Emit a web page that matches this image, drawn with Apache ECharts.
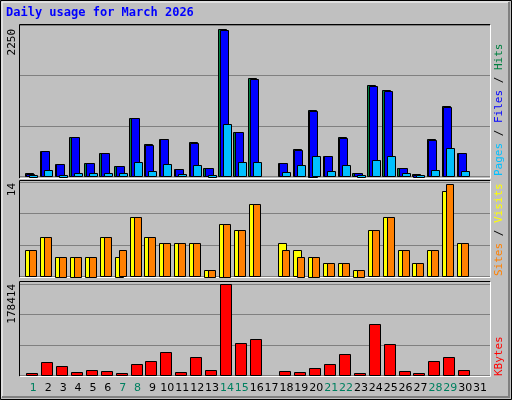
<!DOCTYPE html>
<html><head><meta charset="utf-8">
<script src="https://cdn.jsdelivr.net/npm/echarts@6/dist/echarts.min.js"></script>
<style>html,body{margin:0;padding:0;background:#c0c0c0}#c{width:512px;height:400px}</style>
</head><body><div id="c"></div>
<script>
const days = ['1','2','3','4','5','6','7','8','9','10','11','12','13','14','15','16','17','18','19','20','21','22','23','24','25','26','27','28','29','30','31'];
const weekend = ['1','7','8','14','15','21','22','28','29'];
const hits  = [51,387,188,600,204,356,158,891,494,570,112,524,127,2250,677,1502,0,204,417,1018,310,600,51,1395,1318,127,36,570,1074,356,0];
const files = [36,387,188,600,204,356,158,891,478,570,112,509,127,2235,677,1486,0,204,402,1003,310,585,51,1379,1303,127,30,555,1059,356,0];
const pages = [15,97,20,51,51,51,51,219,81,188,36,173,15,799,219,219,0,66,173,310,81,173,20,249,310,51,10,97,433,81,0];
const sites = [4,6,3,3,3,6,3,9,6,5,5,5,1,8,7,11,0,5,4,3,2,2,1,7,9,4,2,4,13,5,0];
const visits= [4,6,3,3,3,6,4,9,6,5,5,5,1,8,7,11,0,4,3,3,2,2,1,7,9,4,2,4,14,5,0];
const kbytes= [2500,25500,18300,5900,9800,7800,2600,21600,27400,45100,5900,35300,9800,178414,62700,70600,0,7800,5900,13700,21600,41200,3900,100000,60800,7800,2600,27400,35300,9800,0];
const yMaxLabels = ['2250','14','178414'];

const chart = echarts.init(document.getElementById('c'));
const XMIN = 0.107, XMAX = 31.67;
function barSeries(data, grid, color, x0, x1, z){
  return {type:'custom', xAxisIndex:grid, yAxisIndex:grid, z:z,
    data: data.map((v,i)=>[i+1,v]),
    renderItem:(p,api)=>{
      const v=api.value(1); if(!v) return;
      const c=api.coord([api.value(0),v]); const b=api.coord([api.value(0),0]);
      const unit=api.size([1,0])[0]/14.89;
      const h=Math.max(b[1]-c[1],2);
      return {type:'rect', shape:{x:Math.round(c[0]+x0*unit)+0.5,y:Math.round(b[1]-h)+0.5,width:Math.round((x1-x0)*unit),height:Math.round(h)},
        style:{fill:color,stroke:'#000',lineWidth:1}};
    }};
}
const grids=[{left:20,width:470,top:25,height:151.7},{left:20,width:470,top:182,height:94.3},{left:20,width:470,top:283.8,height:91.5},{left:25.9,width:461.6,top:376,height:1}];
const ymax=[2316,14.35,179400];
const xAxis=[0,1,2].map(i=>({gridIndex:i,type:'value',min:XMIN,max:XMAX,show:false}));
xAxis.push({gridIndex:3,type:'category',data:days,axisLine:{show:false},axisTick:{show:false},
  axisLabel:{margin:6,fontFamily:'DejaVu Sans',fontSize:11,interval:0,color:(v)=>weekend.includes(v)?'#008060':'#000'}});
const yAxis=[0,1,2].map(i=>({gridIndex:i,type:'value',min:0,max:ymax[i],interval:ymax[i]/3,
  axisLabel:{show:false},axisLine:{show:false},axisTick:{show:false},splitLine:{lineStyle:{color:'#808080',width:1}}}));
yAxis.push({gridIndex:3,type:'value',show:false});
function frame(x,y,w,h){return [
  {type:'polyline',shape:{points:[[x,y+h],[x,y],[x+w,y]]},style:{stroke:'#000',fill:null,lineWidth:1}},
  {type:'polyline',shape:{points:[[x+w,y],[x+w,y+h],[x,y+h]]},style:{stroke:'#fff',fill:null,lineWidth:1}}];}
const mono='DejaVu Sans Mono';
const graphic=[
  {type:'rect',shape:{x:0.5,y:0.5,width:511,height:399},style:{fill:'#c0c0c0',stroke:'#000',lineWidth:1},z:-10},
  {type:'polyline',shape:{points:[[2,397],[2,2],[509,2]]},style:{stroke:'#fff',fill:null,lineWidth:1},z:-9},
  {type:'polyline',shape:{points:[[509,2],[509,397],[2,397]]},style:{stroke:'#808080',fill:null,lineWidth:2},z:-9},
  ...frame(19.5,24.5,471,154),...frame(19.5,180.5,471,97),...frame(19.5,281.5,471,95),
  {type:'text',left:6,top:7,style:{text:'Daily usage for March 2026',fill:'#0000ff',font:'bold 12px '+mono}},
  {type:'text',x:7,y:29,rotation:Math.PI/2,style:{text:yMaxLabels[0],fill:'#000',font:'11px '+mono,align:'right',verticalAlign:'top'}},
  {type:'text',x:7,y:183,rotation:Math.PI/2,style:{text:yMaxLabels[1],fill:'#000',font:'11px '+mono,align:'right',verticalAlign:'top'}},
  {type:'text',x:7,y:284,rotation:Math.PI/2,style:{text:yMaxLabels[2],fill:'#000',font:'11px '+mono,align:'right',verticalAlign:'top'}},
  {type:'text',x:494,y:176,rotation:Math.PI/2,style:{text:'{p|Pages}{s| / }{f|Files}{s| / }{h|Hits}',font:'11px '+mono,align:'left',verticalAlign:'top',
    rich:{p:{fill:'#00c0ff',font:'11px '+mono},f:{fill:'#0000ff',font:'11px '+mono},h:{fill:'#008040',font:'11px '+mono},s:{fill:'#000',font:'11px '+mono}}}},
  {type:'text',x:494,y:276,rotation:Math.PI/2,style:{text:'{a|Sites}{s| / }{b|Visits}',font:'11px '+mono,align:'left',verticalAlign:'top',
    rich:{a:{fill:'#ff8000',font:'11px '+mono},b:{fill:'#ffff00',font:'11px '+mono},s:{fill:'#000',font:'11px '+mono}}}},
  {type:'text',x:494,y:376,rotation:Math.PI/2,style:{text:'KBytes',fill:'#ff0000',font:'11px '+mono,align:'left',verticalAlign:'top'}}
];
chart.setOption({animation:false,backgroundColor:'#c0c0c0',grid:grids,xAxis,yAxis,graphic,
  series:[
    barSeries(hits,0,'#008040',-8.5,-0.5,2),
    barSeries(files,0,'#0000ff',-7,1,3),
    barSeries(pages,0,'#00c0ff',-4,4,4),
    barSeries(sites,1,'#ffff00',-8,0,2),
    barSeries(visits,1,'#ff8000',-4,3,3),
    barSeries(kbytes,2,'#ff0000',-7,3.5,2),
    {type:'bar',xAxisIndex:3,yAxisIndex:3,data:[],silent:true}
  ]});
</script></body></html>
